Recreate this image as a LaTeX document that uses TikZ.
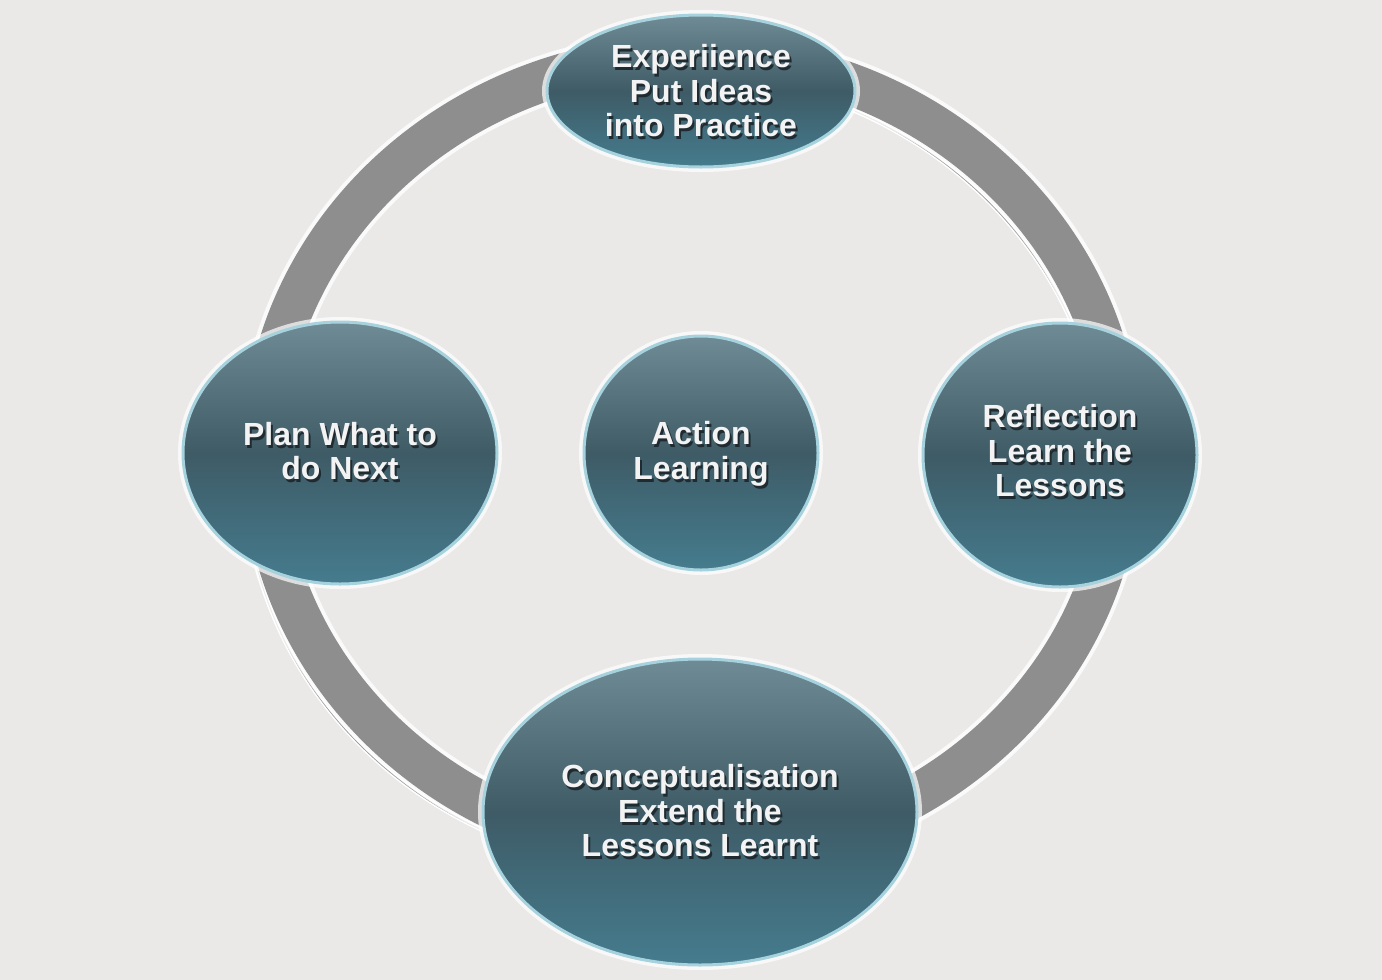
\documentclass[tikz,border=0pt]{standalone}
\usepackage{fontspec}
\setmainfont{Liberation Sans}
\usetikzlibrary{shapes.geometric}
\definecolor{bg}{HTML}{EBE9E8}
\definecolor{ringgray}{HTML}{8E8E8E}
\definecolor{btop}{HTML}{6F8B96}
\definecolor{bmid}{HTML}{3E5B66}
\definecolor{bbot}{HTML}{457C8E}
\definecolor{rim}{HTML}{A6D2DE}
\definecolor{txtshadow}{HTML}{1F2B31}
\definecolor{txtwhite}{HTML}{F3F3F3}
\tikzset{
  bubble/.style={ellipse, inner sep=0pt, draw=rim, line width=1.5pt,
    top color=btop, bottom color=bbot, middle color=bmid,
    preaction={draw=white, line width=5pt, draw opacity=0.7}},
  btext/.style={align=center, text=txtwhite, inner sep=0pt,
    font=\fontsize{16}{17.25}\selectfont\bfseries},
  bshadow/.style={btext, text=txtshadow},
}
\begin{document}
\begin{tikzpicture}[x=0.5pt,y=-0.5pt]
\fill[bg] (0,0) rectangle (1382,980);
\useasboundingbox (0,0) rectangle (1382,980);
\coordinate (c) at (692,455);
\coordinate (cs) at (674,473);
% thin reflected outline
\draw[white, line width=2pt] (cs) ellipse [x radius=214.5pt, y radius=199.5pt];
\draw[gray!75, line width=0.5pt] (cs) ellipse [x radius=214.5pt, y radius=199.5pt];
% ring
\draw[white, line width=25pt, draw opacity=0.8] (c) ellipse [x radius=214.5pt, y radius=199.5pt];
\draw[ringgray, line width=21pt] (c) ellipse [x radius=214.5pt, y radius=199.5pt];
% bubbles
\node[bubble, minimum width=154pt, minimum height=76pt] (exp) at (701,91) {};
\node[bubble, minimum width=157pt, minimum height=131pt] (plan) at (340,453) {};
\node[bubble, minimum width=117pt, minimum height=117pt] (act) at (701,453) {};
\node[bubble, minimum width=137pt, minimum height=132pt] (refl) at (1060,455) {};
\node[bubble, minimum width=217pt, minimum height=153pt] (conc) at (700,812) {};
% texts
\node[bshadow] (exps) at ([shift={(2,3)}]exp.center) {Experiience\\Put Ideas\\into Practice};
\node[btext] (expt) at (exp.center) {Experiience\\Put Ideas\\into Practice};
\node[bshadow] (plans) at ([shift={(2,1)}]plan.center) {Plan What to\\do Next};
\node[btext] (plant) at ([shift={(0,-2)}]plan.center) {Plan What to\\do Next};
\node[bshadow] (acts) at ([shift={(2,4)}]act.center) {Action\\Learning};
\node[btext] (actt) at ([shift={(0,1)}]act.center) {Action\\Learning};
\node[bshadow] (refls) at ([shift={(2,-1)}]refl.center) {Reflection\\Learn the\\Lessons};
\node[btext] (reflt) at ([shift={(0,-4)}]refl.center) {Reflection\\Learn the\\Lessons};
\node[bshadow] (concs) at ([shift={(2,2)}]conc.center) {Conceptualisation\\Extend the\\Lessons Learnt};
\node[btext] (conct) at ([shift={(0,-1)}]conc.center) {Conceptualisation\\Extend the\\Lessons Learnt};
\end{tikzpicture}
\end{document}
